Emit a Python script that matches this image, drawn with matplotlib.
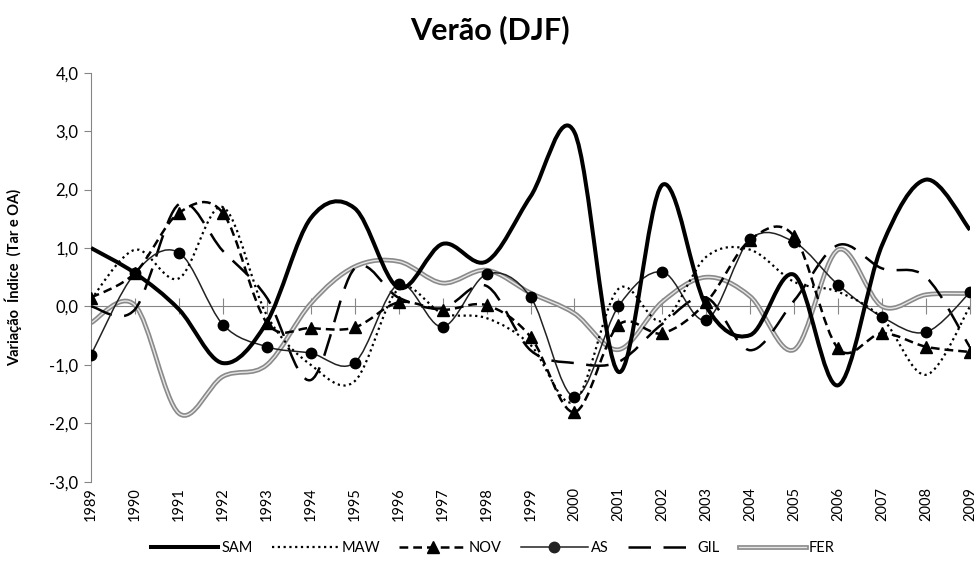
import numpy as np
import matplotlib.pyplot as plt
from matplotlib.path import Path
from matplotlib.patches import PathPatch
from matplotlib.lines import Line2D
from matplotlib.ticker import FuncFormatter

plt.rcParams['font.family'] = ['Lato', 'DejaVu Sans']

years = list(range(1989, 2010))
sam = [1.0, 0.57, -0.05, -0.97, -0.27, 1.51, 1.68, 0.32, 1.07, 0.77, 1.88,
       2.98, -1.12, 2.08, 0.0, -0.49, 0.54, -1.35, 1.05, 2.17, 1.31]
maw = [0.12, 0.97, 0.48, 1.7, -0.15, -1.0, -1.28, 0.3, -0.12, -0.2, -0.66,
       -1.63, 0.3, -0.25, 0.85, 0.97, 0.42, 0.25, -0.2, -1.17, 0.0]
nov = [0.15, 0.57, 1.6, 1.6, -0.28, -0.37, -0.36, 0.07, -0.06, 0.02, -0.52,
       -1.81, -0.32, -0.46, 0.07, 1.14, 1.2, -0.72, -0.46, -0.69, -0.78]
as_ = [-0.83, 0.57, 0.92, -0.31, -0.69, -0.8, -0.96, 0.38, -0.35, 0.55, 0.16,
       -1.55, 0.0, 0.59, -0.23, 1.15, 1.1, 0.37, -0.18, -0.44, 0.24]
gil = [0.0, -0.05, 1.75, 0.95, 0.15, -1.26, 0.65, 0.15, -0.03, 0.35, -0.75,
       -0.97, -0.95, -0.3, 0.15, -0.75, 0.1, 1.05, 0.65, 0.5, -0.7]
fer = [-0.28, 0.02, -1.83, -1.2, -1.0, 0.05, 0.68, 0.77, 0.4, 0.62, 0.23,
       -0.12, -0.74, 0.08, 0.5, 0.17, -0.74, 0.97, 0.0, 0.2, 0.22]


def smooth_path(x, y):
    # excel style smoothed line: bezier segments through the points
    n = len(x)
    verts = [(x[0], y[0])]
    codes = [Path.MOVETO]
    for i in range(n - 1):
        xa, ya = (x[i-1], y[i-1]) if i > 0 else (x[i], y[i])
        xb, yb = (x[i+2], y[i+2]) if i + 2 < n else (x[i+1], y[i+1])
        c1 = (x[i] + (x[i+1] - xa) / 6, y[i] + (y[i+1] - ya) / 6)
        c2 = (x[i+1] - (xb - x[i]) / 6, y[i+1] - (yb - y[i]) / 6)
        verts += [c1, c2, (x[i+1], y[i+1])]
        codes += [Path.CURVE4] * 3
    return Path(verts, codes)


def draw(ax, y, **kw):
    p = PathPatch(smooth_path(years, y), fill=False, capstyle='butt',
                  joinstyle='round', **kw)
    ax.add_patch(p)


fig = plt.figure(figsize=(9.8, 5.64), dpi=100)
ax = fig.add_axes([91/980, 1 - 481.7/564, (970 - 91)/980, 409/564])

draw(ax, fer, edgecolor='#8a8a8a', lw=3.4, zorder=2)
draw(ax, fer, edgecolor='#e6e6e6', lw=1.0, zorder=2.1)
draw(ax, gil, edgecolor='black', lw=1.8, linestyle=(0, (9, 5)), zorder=3)
draw(ax, as_, edgecolor='#222222', lw=1.1, zorder=3)
ax.plot(years, as_, 'o', color='black', ms=7.5, zorder=5)
draw(ax, nov, edgecolor='black', lw=1.8, linestyle=(0, (3.5, 2)), zorder=3)
ax.plot(years, nov, '^', color='black', ms=8, zorder=5)
draw(ax, maw, edgecolor='black', lw=1.6, linestyle=(0, (1, 1.6)), zorder=3)
draw(ax, sam, edgecolor='black', lw=2.9, zorder=4)

ax.set_xlim(1989, 2009)
ax.set_ylim(-3, 4)
ax.set_yticks(np.arange(-3, 4.1, 1))
ax.yaxis.set_major_formatter(FuncFormatter(lambda v, p: f"{v:.1f}".replace('.', ',')))
ax.set_xticks(years)
ax.set_xticklabels([str(y) for y in years], rotation=90)
ax.tick_params(axis='x', length=0, pad=4, labelsize=10.5)
ax.tick_params(axis='y', direction='out', length=5, color='#868686',
               labelsize=12, pad=4)
for s in ['top', 'right', 'bottom']:
    ax.spines[s].set_visible(False)
ax.spines['left'].set_color('#868686')

# zero line with crossing ticks
sec = ax.secondary_xaxis(3/7)
sec.set_xticks(years)
sec.tick_params(direction='inout', length=12, color='#868686', labelbottom=False,
                labeltop=False)
sec.spines['bottom'].set_color('#868686')
sec.spines['top'].set_color('#868686')

ax.set_ylabel('Variação  Índice  (Tar e OA)', fontsize=10.5, fontweight='bold')
ax.yaxis.set_label_coords(-0.078, 0.5)

fig.text(0.5, 1 - 30/564, 'Verão (DJF)', ha='center', va='center',
         fontsize=22, fontweight='bold')

fer_h = (Line2D([], [], color='#8a8a8a', lw=3.4), Line2D([], [], color='#e6e6e6', lw=1.0))
handles = [Line2D([], [], color='black', lw=2.9),
           Line2D([], [], color='black', lw=1.6, ls=(0, (1, 1.6))),
           Line2D([], [], color='black', lw=1.8, ls=(0, (3.5, 2)), marker='^', ms=8),
           Line2D([], [], color='#222222', lw=1.1, marker='o', ms=7.5),
           Line2D([], [], color='black', lw=1.8, ls=(0, (9, 5))),
           fer_h]
labels = ['SAM', 'MAW', 'NOV', 'AS', 'GIL', 'FER']
fig.legend(handles, labels, loc='center', bbox_to_anchor=(0.503, 1 - 548/564),
           ncol=6, frameon=False, fontsize=10.5, handlelength=4.6,
           handletextpad=0.2, columnspacing=1.3, markerscale=1)

fig.savefig('out.png', dpi=100)
